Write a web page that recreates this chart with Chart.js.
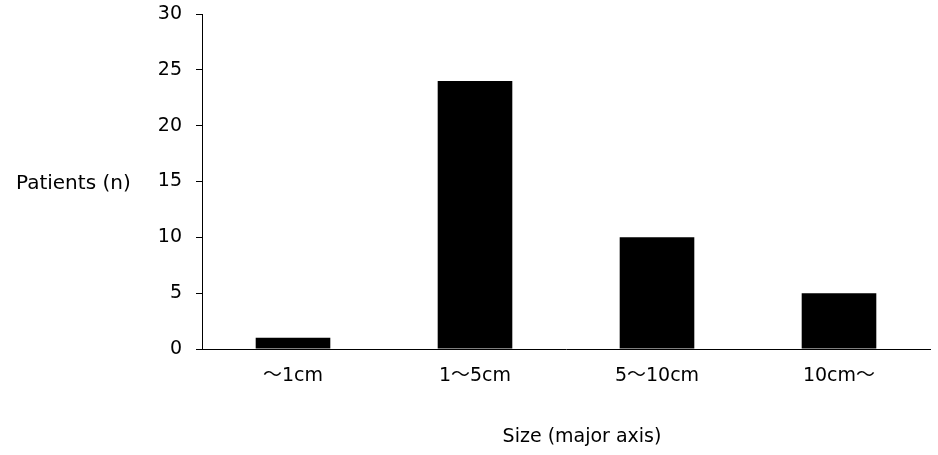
<!DOCTYPE html>
<html>
<head>
<meta charset="utf-8">
<script src="https://cdn.jsdelivr.net/npm/chart.js@4/dist/chart.umd.min.js"></script>
<style>
html,body{margin:0;padding:0;background:#fff;}
#wrap{width:938px;height:455px;position:relative;}
</style>
</head>
<body>
<div id="wrap"><canvas id="c" width="938" height="455"></canvas></div>
<script>
const categories = ["～1cm", "1～5cm", "5～10cm", "10cm～"];
const patients = [1, 24, 10, 5];
const yTitle = "Patients (n)";
const xTitle = "Size (major axis)";
const yMin = 0, yMax = 30, yStep = 5;

const FONT = "'DejaVu Sans', 'Noto Sans CJK JP', sans-serif";

const titlePlugin = {
  id: 'axisTitles',
  afterDraw(chart) {
    const ctx = chart.ctx;
    const ca = chart.chartArea;
    ctx.save();
    ctx.fillStyle = "#000";
    ctx.textBaseline = "middle";
    ctx.font = "20px " + FONT;
    ctx.textAlign = "left";
    ctx.fillText(yTitle, 16, (ca.top + ca.bottom) / 2 + 2);
    ctx.font = "19px " + FONT;
    ctx.textAlign = "center";
    ctx.fillText(xTitle, ca.left + (ca.right - ca.left) * 0.522, ca.bottom + 88);
    ctx.restore();
  }
};

new Chart(document.getElementById('c'), {
  type: 'bar',
  data: {
    labels: categories,
    datasets: [{
      data: patients,
      backgroundColor: '#000',
      borderWidth: 0,
      barPercentage: 0.41,
      categoryPercentage: 1.0
    }]
  },
  options: {
    responsive: false,
    animation: false,
    devicePixelRatio: 1,
    layout: { padding: { top: 14, right: 8, bottom: 0, left: 0 } },
    plugins: { legend: { display: false }, tooltip: { enabled: false } },
    scales: {
      x: {
        grid: { display: false, drawTicks: false },
        border: { display: true, color: '#000', width: 1 },
        ticks: { color: '#000', font: { family: FONT, size: 19 }, padding: 16, maxRotation: 0 },
        afterFit(scale) { scale.height = 106; scale.paddingLeft = 0; scale.paddingRight = 0; }
      },
      y: {
        min: yMin, max: yMax,
        grid: { drawOnChartArea: false, drawTicks: true, tickLength: 6, color: '#000' },
        border: { display: true, color: '#000', width: 1 },
        ticks: { stepSize: yStep, color: '#000', font: { family: FONT, size: 19 }, padding: 14 },
        afterFit(scale) { scale.width = 202; scale.paddingTop = 0; scale.paddingBottom = 0; }
      }
    }
  },
  plugins: [titlePlugin]
});
</script>
</body>
</html>
